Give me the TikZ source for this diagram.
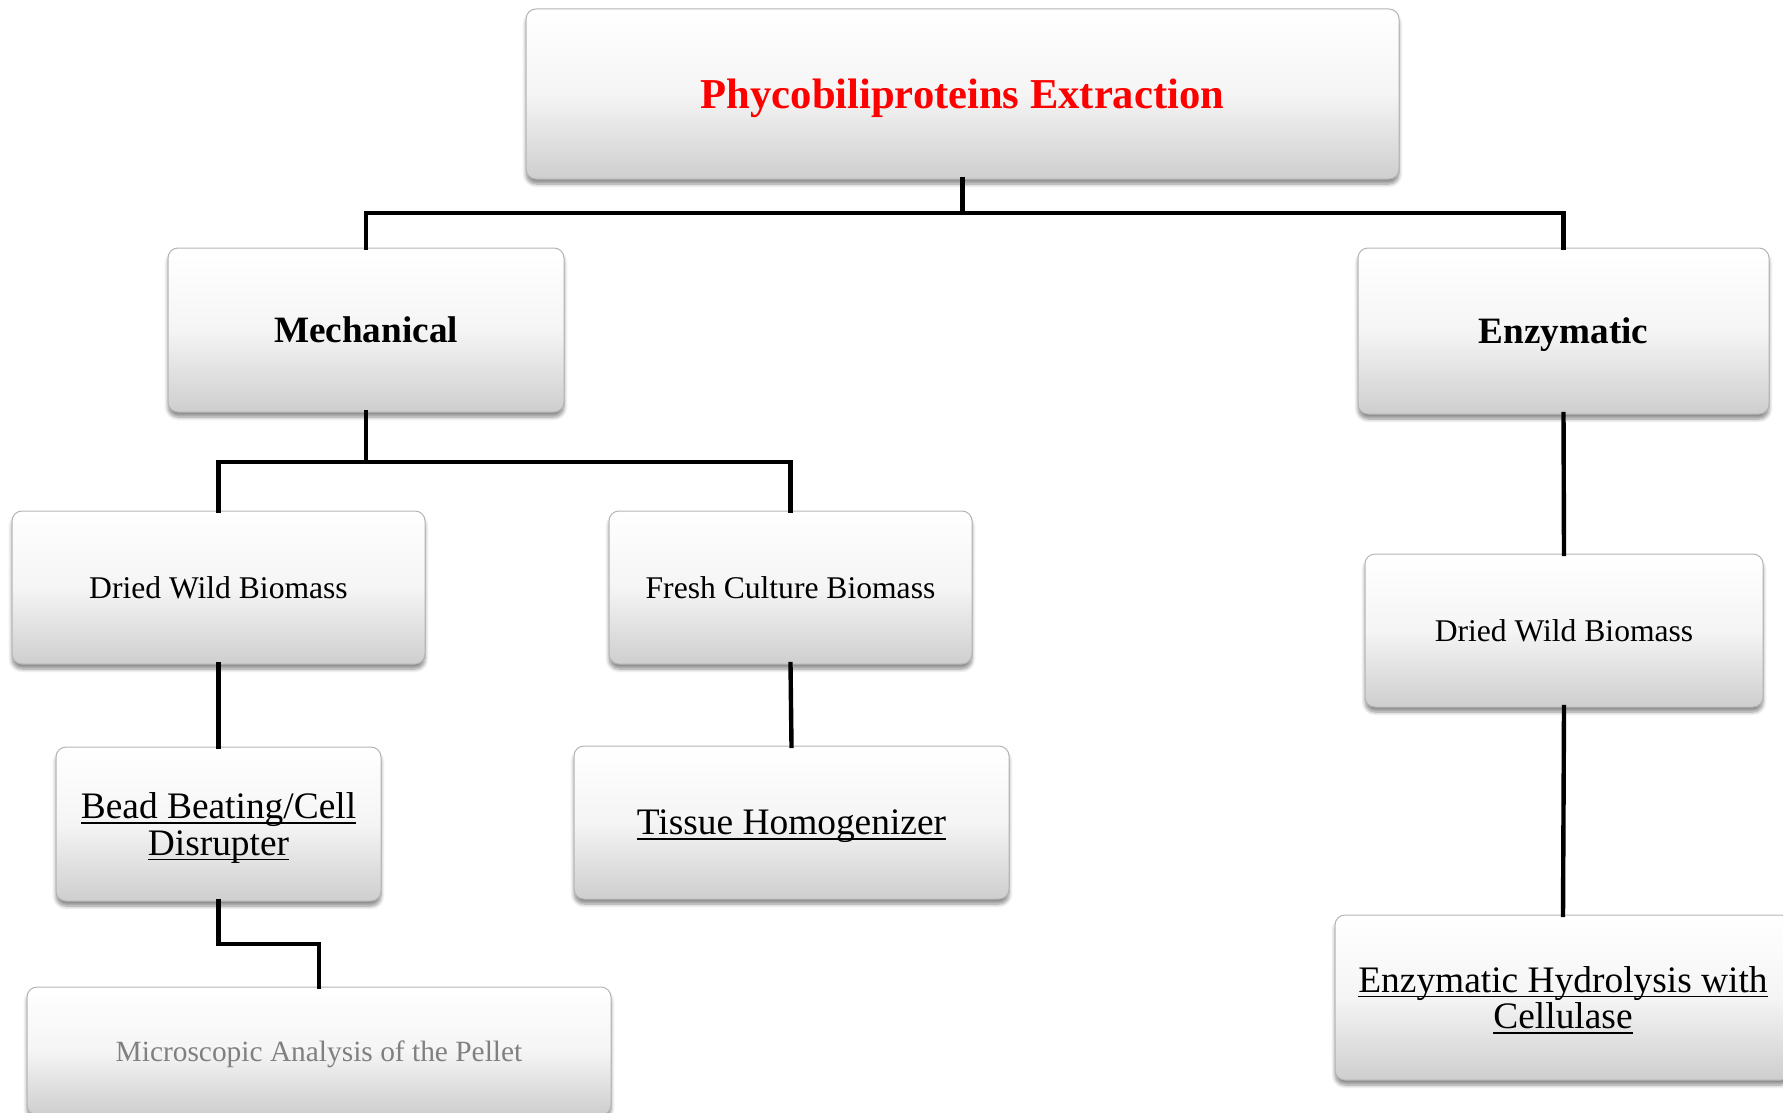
\documentclass[tikz,border=0pt]{standalone}
\usepackage{fontspec}
\setmainfont{Liberation Serif}
\usetikzlibrary{shadows.blur}
\definecolor{cff0000}{RGB}{255,0,0}
\definecolor{c808080}{RGB}{128,128,128}
\definecolor{cd2d2d2}{RGB}{206,206,206}
\definecolor{cb4b4b4}{RGB}{180,180,180}
\newcommand{\lined}[1]{\setbox0\hbox{#1}\rlap{\rule[-2.6pt]{\wd0}{0.9pt}}\box0}

\begin{document}
\begin{tikzpicture}[y=-0.5pt, x=0.5pt, inner sep=0pt, outer sep=0pt,
  pbox/.style={draw=cb4b4b4, line width=0.5pt, rounded corners=5pt,
    top color=white, bottom color=cd2d2d2, middle color=white!96!black,
    blur shadow={shadow xshift=0pt, shadow yshift=-2.5pt, shadow blur steps=6,
      shadow opacity=45}, align=center, text depth=0pt},
  link/.style={draw=black, line width=2.2pt, line cap=rect}]
  \useasboundingbox (0,0) rectangle (1783,1113);
  % boxes
  \node[pbox, minimum width=436.5pt, minimum height=85pt,
    font=\fontsize{21.3}{24}\selectfont\bfseries, text=cff0000]
    (extraction) at (962.5,94) {Phycobiliproteins Extraction};
  \node[pbox, minimum width=198pt, minimum height=82pt,
    font=\fontsize{18.6}{22}\selectfont\bfseries]
    (mechanical) at (366,330) {Mechanical};
  \node[pbox, minimum width=205.5pt, minimum height=83pt,
    font=\fontsize{18.6}{22}\selectfont\bfseries]
    (enzymatic) at (1563.5,331) {Enzymatic};
  \node[pbox, minimum width=206.5pt, minimum height=76.5pt,
    font=\fontsize{15.8}{19}\selectfont]
    (dwb-left) at (218.5,587.5) {Dried Wild Biomass};
  \node[pbox, minimum width=181.5pt, minimum height=76.5pt,
    font=\fontsize{15.8}{19}\selectfont]
    (fcb) at (790.5,587.5) {Fresh Culture Biomass};
  \node[pbox, minimum width=162.5pt, minimum height=77pt,
    font=\fontsize{18.7}{18.2}\selectfont]
    (bead) at (218.5,824) {\lined{Bead Beating/Cell}\\\lined{Disrupter}};
  \node[pbox, minimum width=217.5pt, minimum height=76.5pt,
    font=\fontsize{18.7}{18.2}\selectfont]
    (tissue) at (791.5,822.5) {\lined{Tissue Homogenizer}};
  \node[pbox, minimum width=292pt, minimum height=64pt,
    font=\fontsize{14.7}{18}\selectfont, text=c808080]
    (pellet) at (319,1051) {Microscopic Analysis of the Pellet};
  \node[pbox, minimum width=199pt, minimum height=76.5pt,
    font=\fontsize{15.8}{19}\selectfont]
    (dwb-right) at (1564,630.5) {Dried Wild Biomass};
  \node[pbox, minimum width=228pt, minimum height=82.5pt,
    font=\fontsize{18.7}{18.2}\selectfont]
    (hydrolysis) at (1563,997.5) {\lined{Enzymatic Hydrolysis with}\\\lined{Cellulase}};
  % joints
  \coordinate (j-top) at (962.5,213);
  \coordinate (j-mech) at (366,462);
  \coordinate (j-bead) at (270,944);
  % links
  \path[link] (extraction.south) -- (j-top);
  \path[link] (mechanical.north) |- (j-top) -| (enzymatic.north);
  \path[link] (mechanical.south) -- (j-mech);
  \path[link] (dwb-left.north) |- (j-mech) -| (fcb.north);
  \path[link] (dwb-left.south) -- (bead.north);
  \path[link] (fcb.south) -- (tissue.north);
  \path[link] (bead.south) |- (j-bead) -| (pellet.north);
  \path[link] (enzymatic.south) -- (dwb-right.north);
  \path[link] (dwb-right.south) -- (hydrolysis.north);
\end{tikzpicture}
\end{document}
